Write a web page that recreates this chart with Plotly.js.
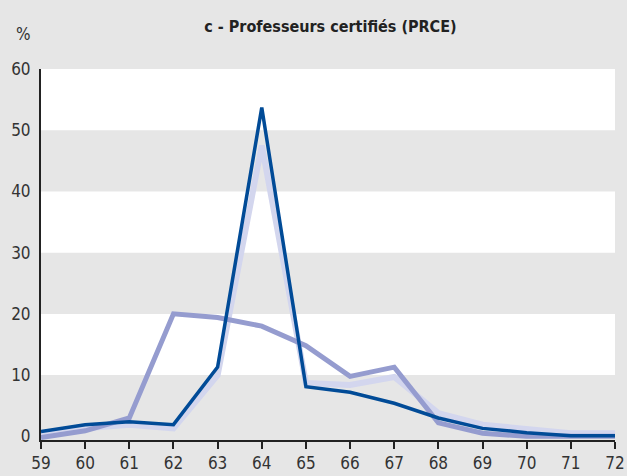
<!DOCTYPE html>
<html>
<head>
<meta charset="utf-8">
<script src="https://cdn.plot.ly/plotly-3.0.1.min.js"></script>
<style>html,body{margin:0;padding:0;background:#e6e6e6;}#chart{width:627px;height:476px;}</style>
</head>
<body>
<div id="chart"></div>
<script>
const ages = [59, 60, 61, 62, 63, 64, 65, 66, 67, 68, 69, 70, 71, 72];
const seriesDark = [0.8, 1.9, 2.4, 1.9, 11.3, 53.7, 8.1, 7.2, 5.4, 3.0, 1.3, 0.6, 0.1, 0.1];
const seriesMid = [-0.2, 0.9, 3.0, 20.0, 19.4, 18.0, 14.8, 9.8, 11.3, 2.2, 0.5, 0.0, 0.0, 0.0];
const seriesLight = [0.3, 1.3, 1.9, 1.3, 10.0, 47.5, 8.7, 8.4, 9.7, 3.8, 1.9, 1.1, 0.5, 0.5];
const yTicks = [0, 10, 20, 30, 40, 50, 60];
const whiteBands = [[10, 20], [30, 40], [50, 60]];

const fontFam = '"Liberation Sans Narrow", "Arial Narrow", "DejaVu Sans Condensed", sans-serif';

const traces = [
  {x: ages, y: seriesLight, mode: 'lines', line: {color: '#d3d6ee', width: 6}, hoverinfo: 'skip'},
  {x: ages, y: seriesMid, mode: 'lines', line: {color: '#959ccf', width: 5}, hoverinfo: 'skip'},
  {x: ages, y: seriesDark, mode: 'lines', line: {color: '#014b97', width: 3.5}, hoverinfo: 'skip'}
];

const shapes = whiteBands.map(b => ({
  type: 'rect', xref: 'paper', yref: 'y', x0: 0, x1: 1, y0: b[0], y1: b[1],
  fillcolor: '#ffffff', line: {width: 0}, layer: 'below'
}));

const layout = {
  width: 627, height: 476,
  margin: {l: 41, r: 12, t: 69, b: 36},
  paper_bgcolor: '#e6e6e6',
  plot_bgcolor: '#e6e6e6',
  showlegend: false,
  font: {family: fontFam, color: '#333333', size: 17},
  title: {text: '<b>c - Professeurs certifiés (PRCE)</b>', x: 0.527, xanchor: 'center', y: 0.945, yanchor: 'middle',
          font: {family: fontFam, size: 16, color: '#222222'}},
  xaxis: {
    range: [59, 72], tickvals: ages, ticktext: ages.map(String),
    showgrid: false, zeroline: false, showline: true, linecolor: '#222222', linewidth: 2,
    ticks: 'outside', ticklen: 7, tickwidth: 2, tickcolor: '#222222',
    tickfont: {family: fontFam, size: 17, color: '#333333'}, fixedrange: true
  },
  yaxis: {
    range: [-0.6, 60], tickvals: yTicks, ticktext: yTicks.map(String),
    showgrid: false, zeroline: false, showline: true, linecolor: '#222222', linewidth: 2,
    ticks: '', ticklabelstandoff: 5,
    tickfont: {family: fontFam, size: 17, color: '#333333'}, fixedrange: true
  },
  shapes: shapes,
  annotations: [{text: '%', xref: 'paper', yref: 'paper', x: -0.03, y: 1.095, xanchor: 'center', yanchor: 'middle',
                 showarrow: false, font: {family: fontFam, size: 17, color: '#333333'}}]
};

Plotly.newPlot('chart', traces, layout, {displayModeBar: false, staticPlot: true});
</script>
</body>
</html>
